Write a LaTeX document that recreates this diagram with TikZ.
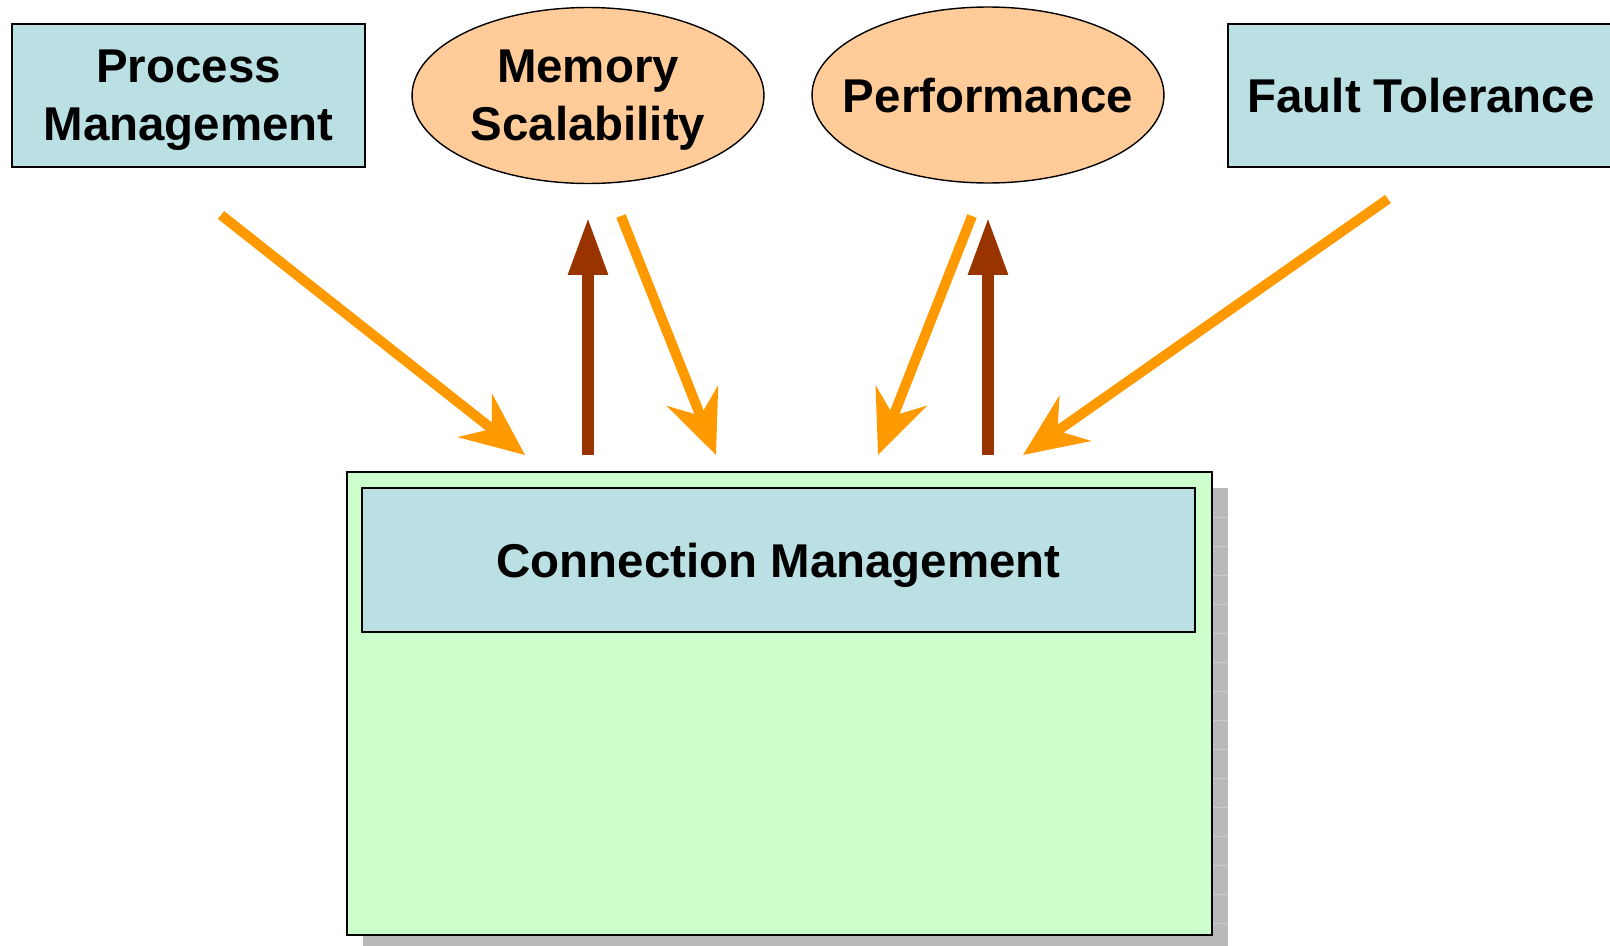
\documentclass[tikz,border=0pt]{standalone}
\usepackage{fontspec}
\setmainfont{Liberation Sans}
\usepackage{xcolor}
\usetikzlibrary{shapes.geometric,arrows.meta,positioning,calc}

\definecolor{boxblue}{HTML}{BBE0E3}
\definecolor{ovalorange}{HTML}{FFCC99}
\definecolor{basegreen}{HTML}{CCFFCC}
\definecolor{flowin}{HTML}{FF9900}
\definecolor{flowout}{HTML}{993300}

\begin{document}
\begin{tikzpicture}[x=0.02cm, y=-0.02cm, thick]
    % Styles
    \tikzstyle{label text} = [font=\bfseries\fontsize{27}{33}\selectfont, text depth=-5pt, align=center]
    \tikzstyle{topic} = [draw, rectangle, fill=boxblue, line width=0.8pt, inner sep=0pt, label text]
    \tikzstyle{concern} = [draw, ellipse, fill=ovalorange, line width=0.8pt, inner sep=0pt, inner xsep=-13pt,
        minimum width=7.04cm, minimum height=3.52cm, label text]
    \tikzstyle{inflow} = [draw=flowin, line width=5.7pt,
        -{Stealth[length=36pt, width=31pt, inset=12pt]}]
    \tikzstyle{outflow} = [draw=flowout, line width=6.8pt,
        -{Triangle[length=33pt, width=21pt]}]

    \useasboundingbox (0,0) rectangle (1610,946);

    % Base block with shadow
    \fill[gray!55] (363,488) rectangle (1228,960);
    \foreach \yy in {517,546,...,946} {
        \draw[gray!40, line width=0.4pt] (1212,\yy) -- (1228,\yy);
    }
    \node[draw, rectangle, fill=basegreen, line width=1pt, minimum width=17.3cm, minimum height=9.26cm,
        inner sep=0pt] (connBox) at (779.5,703.5) {};
    \node[topic, minimum width=16.66cm, minimum height=2.88cm] (connMgmt) at (778.5,560) {Connection Management};

    % Concerns on top
    \node[topic, minimum width=7.06cm, minimum height=2.86cm] (procMgmt) at (188.5,95.5) {Process\\Management};
    \node[concern] (memScal) at (588,95.5) {Memory\\Scalability};
    \node[concern] (perf) at (988,95) {Performance};
    \node[topic, minimum width=7.72cm, minimum height=2.86cm] (faultTol) at (1421,95.5) {Fault Tolerance};

    % Arrow ends
    \coordinate (pmOut) at (221,215);   \coordinate (pmIn) at (525,455);
    \coordinate (msIn) at (588,217);    \coordinate (msBase) at (588,455);
    \coordinate (msOut) at (621,216);   \coordinate (msDown) at (716,455);
    \coordinate (pfOut) at (972,216);   \coordinate (pfDown) at (878,455);
    \coordinate (pfIn) at (988,217);    \coordinate (pfBase) at (988,455);
    \coordinate (ftOut) at (1388,199);  \coordinate (ftIn) at (1023,455);

    % Edges
    \draw[inflow] (pmOut) -- (pmIn);
    \draw[outflow] (msBase) -- (msIn);
    \draw[inflow] (msOut) -- (msDown);
    \draw[inflow] (pfOut) -- (pfDown);
    \draw[outflow] (pfBase) -- (pfIn);
    \draw[inflow] (ftOut) -- (ftIn);

\end{tikzpicture}
\end{document}
